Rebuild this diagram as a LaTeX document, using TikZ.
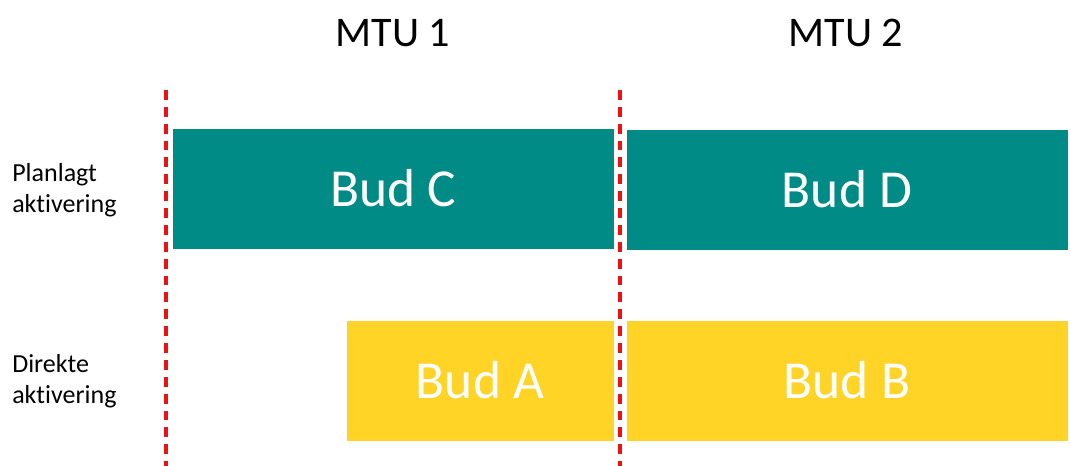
\documentclass[tikz,border=0pt]{standalone}
\usepackage{fontspec}
\setmainfont{Carlito}[Ligatures=NoCommon]
\usepackage{xcolor}
\definecolor{budteal}{HTML}{008B87}
\definecolor{budyellow}{HTML}{FFD426}
\definecolor{mtured}{HTML}{EE1111}

\tikzset{
    budbox/.style={draw=white, line width=0.6pt, minimum height=121*0.025cm, inner sep=0pt, text=white, font=\fontsize{38}{44}\selectfont},
    mtuline/.style={mtured, line width=2.2pt, dash pattern=on 7pt off 5pt},
    rowlabel/.style={anchor=west, align=left, inner sep=0pt, font=\fontsize{18.5}{22}\selectfont},
}

\begin{document}
\begin{tikzpicture}[x=0.025cm, y=-0.025cm]
            \useasboundingbox (0,0) rectangle (1071,466);

            % Bid boxes
            \node[budbox, fill=budteal, minimum width=442*0.025cm] (budC) at (393,188.5) {Bud C};
            \node[budbox, fill=budteal, minimum width=442*0.025cm] (budD) at (847,189.5) {Bud D};
            \node[budbox, fill=budyellow, minimum width=268*0.025cm] (budA) at (480,380.5) {Bud A};
            \node[budbox, fill=budyellow, minimum width=442*0.025cm] (budB) at (847,380.5) {Bud B};

            % MTU borders
            \foreach \x/\name in {166/one, 620/two} {
                \coordinate (top\name) at (\x,90);
                \coordinate (bot\name) at (\x,466);
                \draw[mtuline] (top\name) -- (bot\name);
            }

            % MTU titles
            \node[font=\fontsize{30}{36}\selectfont] (mtuA) at (393,33) {MTU 1};
            \node[font=\fontsize{30}{36}\selectfont] (mtuB) at (846,33) {MTU 2};

            % Row labels
            \node[rowlabel] (planlagt) at (12,190) {Planlagt\\aktivering};
            \node[rowlabel] (direkte) at (12,381) {Direkte\\aktivering};
        \end{tikzpicture}
\end{document}
